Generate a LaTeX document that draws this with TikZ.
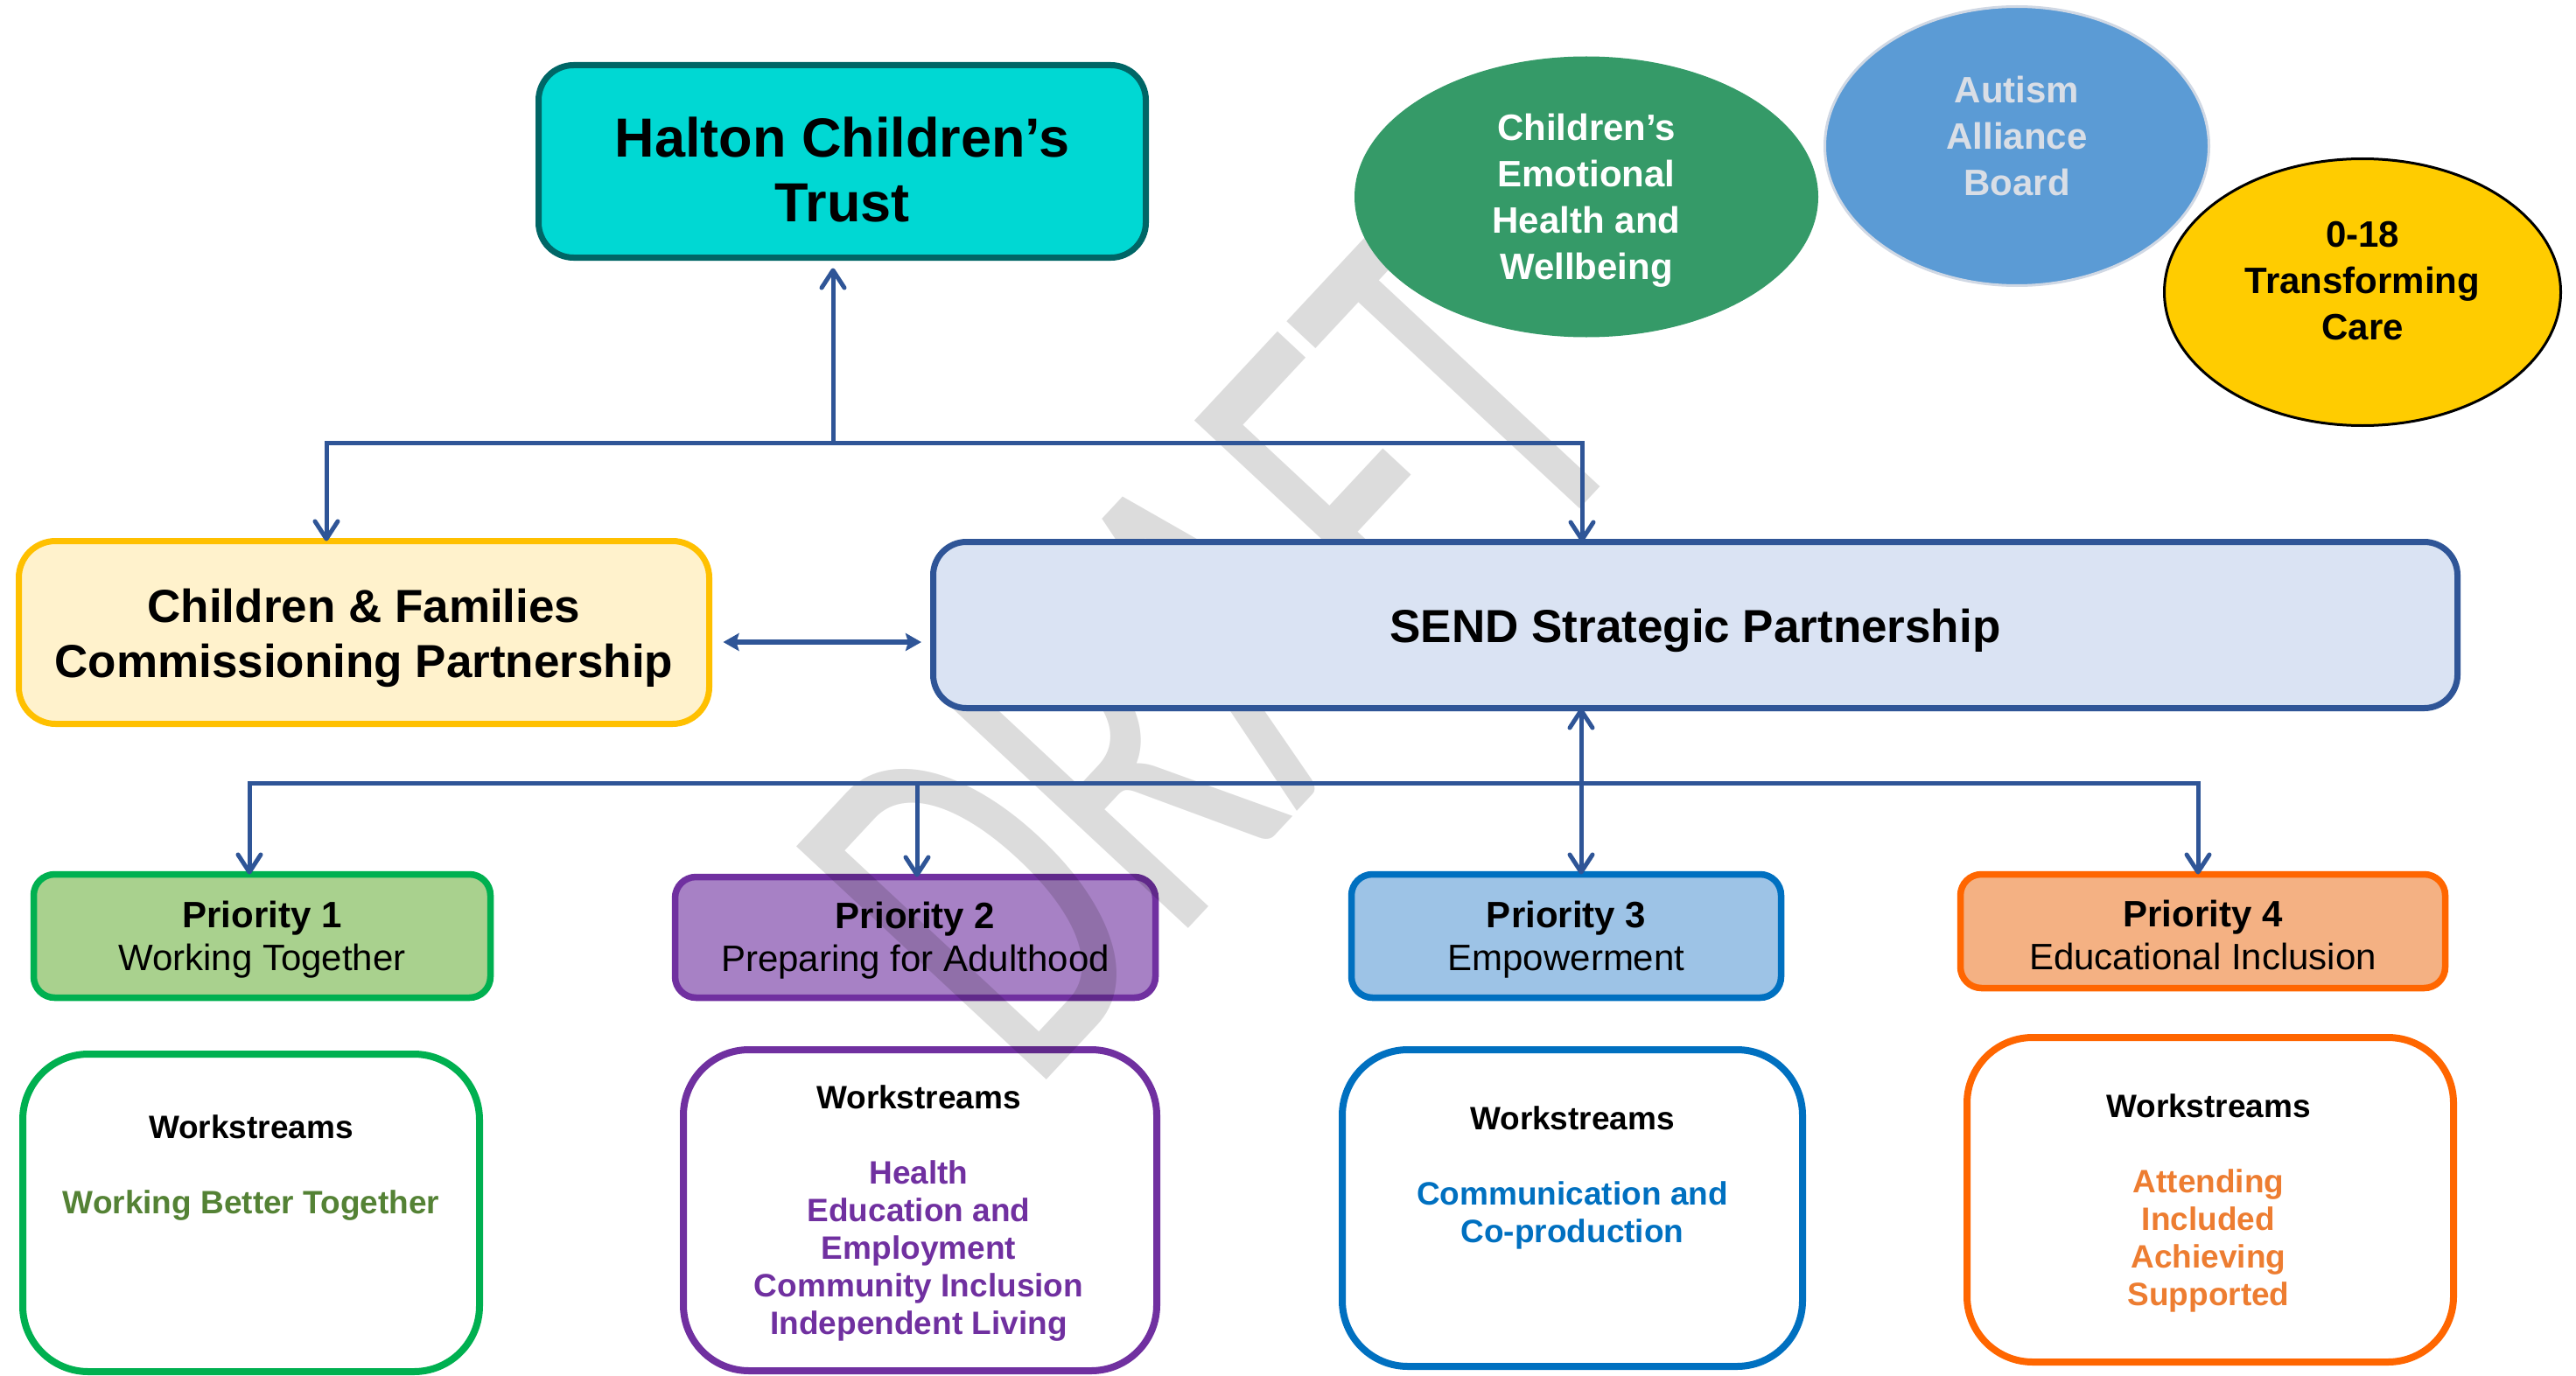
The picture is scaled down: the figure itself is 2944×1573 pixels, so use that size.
\documentclass[tikz,border=0pt]{standalone}
\usepackage{fontspec}
\usepackage{graphicx}
\setmainfont{Liberation Sans}
\newfontfamily\wmfont{Carlito}
\usetikzlibrary{arrows.meta,shapes.geometric}
\definecolor{haltonfill}{RGB}{0,216,211}
\definecolor{haltonborder}{RGB}{0,102,102}
\definecolor{cffill}{RGB}{255,242,204}
\definecolor{cfborder}{RGB}{255,192,0}
\definecolor{sendfill}{RGB}{218,227,243}
\definecolor{connblue}{RGB}{47,85,151}
\definecolor{greenell}{RGB}{53,154,104}
\definecolor{blueell}{RGB}{91,155,213}
\definecolor{blueellborder}{RGB}{208,216,228}
\definecolor{autismtext}{RGB}{217,222,230}
\definecolor{yellowell}{RGB}{255,204,0}
\definecolor{pafill}{RGB}{169,209,142}
\definecolor{paborder}{RGB}{0,176,80}
\definecolor{pbfill}{RGB}{167,129,197}
\definecolor{pbborder}{RGB}{112,48,160}
\definecolor{pcfill}{RGB}{157,195,230}
\definecolor{pcborder}{RGB}{0,112,192}
\definecolor{pdfill}{RGB}{244,177,131}
\definecolor{pdborder}{RGB}{255,102,0}
\definecolor{wsatext}{RGB}{84,130,53}
\definecolor{wsbtext}{RGB}{112,48,160}
\definecolor{wsctext}{RGB}{0,112,192}
\definecolor{wsdtext}{RGB}{237,125,49}
\definecolor{wmgray}{RGB}{220,220,220}
\begin{document}
\begin{tikzpicture}[x=1pt,y=-1pt,
  box/.style={rectangle, inner sep=0pt, outer sep=0pt},
  bigbox/.style={box, line width=7pt},
  bigt/.style={inner sep=0pt, align=center, text=black, font=\fontsize{53}{63}\selectfont\bfseries},
  prio/.style={box, line width=7.5pt, rounded corners=24pt},
  priot/.style={inner sep=0pt, align=center, text=black, yshift=-4pt, font=\fontsize{42}{49}\selectfont},
  wsbox/.style={box, line width=8pt, rounded corners=75pt, fill=none},
  wstext/.style={inner sep=0pt, align=center, anchor=north, font=\fontsize{37}{43}\selectfont\bfseries},
  ellt/.style={inner sep=0pt, align=center, font=\fontsize{42}{53}\selectfont\bfseries},
  ell/.style={ellipse, inner sep=0pt, outer sep=0pt},
  conn/.style={draw=connblue, line width=5pt},
  vtip/.style={-{Straight Barb[length=20pt,width=26pt,round]}},
  vvtip/.style={{Straight Barb[length=20pt,width=26pt,round]}-{Straight Barb[length=20pt,width=26pt,round]}},
  fattip/.style={{Stealth[length=18pt,width=20pt,inset=3pt]}-{Stealth[length=18pt,width=20pt,inset=3pt]}}
]
\useasboundingbox (0,0) rectangle (2944,1573);
\fill[white] (0,0) rectangle (2944,1573);

% priority 2 and workstream boxes (under the watermark)
\node[prio, draw=pbborder, fill=pbfill, minimum width=549pt, minimum height=138pt,
  label={[name=p2t, priot]center:\textbf{Priority 2}\\Preparing for Adulthood}] (p2) at (1046,1071.5) {};
\node[wsbox, draw=paborder, minimum width=522pt, minimum height=363pt] (ws1) at (287,1386.5) {};
\node[wsbox, draw=pbborder, minimum width=541pt, minimum height=367pt] (ws2) at (1051.5,1383.5) {};
\node[wsbox, draw=pcborder, minimum width=526pt, minimum height=362pt] (ws3) at (1797,1381) {};
\node[wsbox, draw=pdborder, minimum width=556pt, minimum height=371pt] (ws4) at (2526,1371.5) {};
\node[wstext] (ws1t) at (287,1274) {Workstreams\\[43pt]\textcolor{wsatext}{Working Better Together}};
\node[wstext] (ws2t) at (1050,1240) {Workstreams\\[43pt]\textcolor{wsbtext}{Health}\\\textcolor{wsbtext}{Education and}\\\textcolor{wsbtext}{Employment}\\\textcolor{wsbtext}{Community Inclusion}\\\textcolor{wsbtext}{Independent Living}};
\node[wstext] (ws3t) at (1797,1264) {Workstreams\\[43pt]\textcolor{wsctext}{Communication and}\\\textcolor{wsctext}{Co-production}};
\node[wstext] (ws4t) at (2524,1250) {Workstreams\\[43pt]\textcolor{wsdtext}{Attending}\\\textcolor{wsdtext}{Included}\\\textcolor{wsdtext}{Achieving}\\\textcolor{wsdtext}{Supported}};

% watermark
\begin{scope}[blend mode=multiply]
\node[rotate=47, text=wmgray, inner sep=0pt, font=\wmfont\fontsize{609}{609}\selectfont] (draft) at (1387,744) {\scalebox{0.63}[1]{DRAFT}};
\end{scope}

% top ellipses
\node[ell, fill=greenell, minimum width=530pt, minimum height=321pt,
  label={[name=cehwt, ellt, text=white, yshift=-4pt]center:Children’s\\Emotional\\Health and\\Wellbeing}] (cehw) at (1813,225) {};
\node[ell, fill=blueell, draw=blueellborder, line width=3pt, minimum width=439pt, minimum height=319pt,
  label={[name=aabt, ellt, text=autismtext, yshift=12pt]center:Autism\\Alliance\\Board}] (aab) at (2305,167) {};
\node[ell, fill=yellowell, draw=black, line width=3pt, minimum width=453pt, minimum height=305pt,
  label={[name=tct, ellt, text=black, yshift=13pt]center:0-18\\Transforming\\Care}] (tc) at (2700,334) {};

% main boxes
\node[bigbox, draw=haltonborder, fill=haltonfill, rounded corners=40pt, minimum width=694pt, minimum height=220pt,
  label={[name=haltont, bigt, font=\fontsize{63}{74}\selectfont\bfseries, yshift=-9pt]center:Halton Children’s\\Trust}] (halton) at (962.5,184.5) {};
\node[bigbox, draw=cfborder, fill=cffill, rounded corners=42pt, minimum width=789pt, minimum height=209pt,
  label={[name=cft, bigt, yshift=-6pt]center:Children \& Families\\Commissioning Partnership}] (cf) at (416,723) {};
\node[bigbox, draw=connblue, fill=sendfill, rounded corners=38pt, minimum width=1742pt, minimum height=190pt,
  label={[name=sendt, bigt, yshift=-6pt]center:SEND Strategic Partnership}] (send) at (1937.5,714.5) {};

% other priority boxes
\node[prio, draw=paborder, fill=pafill, minimum width=522pt, minimum height=141pt,
  label={[name=p1t, priot]center:\textbf{Priority 1}\\Working Together}] (p1) at (299.5,1070) {};
\node[prio, draw=pcborder, fill=pcfill, minimum width=491pt, minimum height=141pt,
  label={[name=p3t, priot]center:\textbf{Priority 3}\\Empowerment}] (p3) at (1790,1070) {};
\node[prio, draw=pdborder, fill=pdfill, minimum width=554pt, minimum height=130pt,
  label={[name=p4t, priot]center:\textbf{Priority 4}\\Educational Inclusion}] (p4) at (2517.5,1064.5) {};

% connectors: top
\coordinate (tL) at (373,506);
\coordinate (tJ) at (952,506);
\coordinate (tR) at (1808,506);
\draw[conn, vtip, shorten >=12pt] (tJ) -- (tJ |- halton.south);
\draw[conn, vtip] (tJ) -- (tL) -- (tL |- cf.north);
\draw[conn, vtip] (tJ) -- (tR) -- (tR |- send.north);

% connector between C&F and SEND
\coordinate (mid) at (940,734);
\draw[draw=connblue, line width=6pt, fattip, shorten <=16pt, shorten >=13.5pt] (mid -| cf.east) -- (mid -| send.west);

% connectors: bottom
\coordinate (bL) at (285,895);
\coordinate (b2) at (1048,895);
\coordinate (b3) at (1807,895);
\coordinate (bR) at (2512,895);
\draw[conn, vtip] (b2) -- (bL) -- (bL |- p1.north);
\draw[conn, vtip] (b2) -- (bR) -- (bR |- p4.north);
\draw[conn, vtip] (b2) -- (b2 |- p2.north);
\draw[conn, vvtip] (b3 |- send.south) -- (b3 |- p3.north);
\end{tikzpicture}
\end{document}
